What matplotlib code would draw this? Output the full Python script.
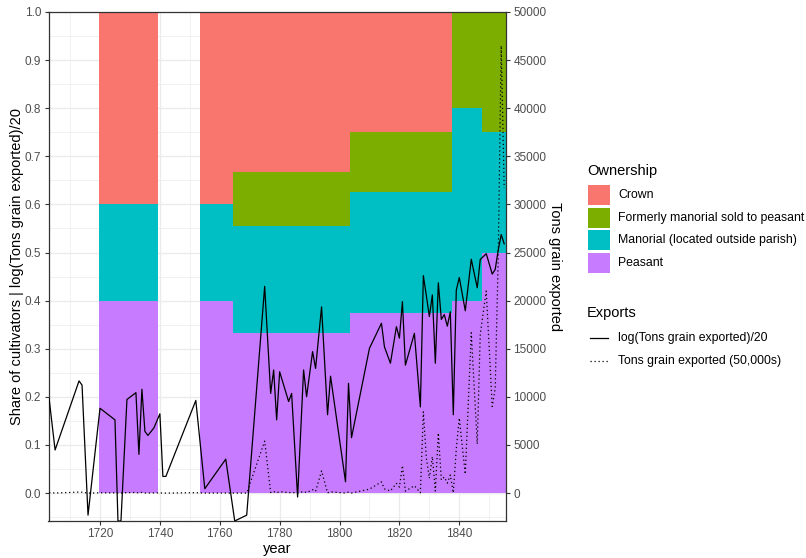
import numpy as np
import matplotlib
matplotlib.use("Agg")
import matplotlib.pyplot as plt
from matplotlib.patches import Rectangle
from matplotlib.lines import Line2D

plt.rcParams['font.family'] = ['Liberation Sans', 'DejaVu Sans']

# ownership periods and shares of cultivators
period_start = [1719.5, 1753.5, 1764.5, 1803.5, 1837.5, 1847.5]
period_end = [1739.5, 1764.5, 1803.5, 1837.5, 1847.5, 1855.5]
share_peasant = [2/5, 2/5, 3/9, 3/8, 2/5, 2/4]
share_manorial = [1/5, 1/5, 2/9, 2/8, 2/5, 1/4]
share_formerly = [0, 0, 1/9, 1/8, 1/5, 1/4]
share_crown = [2/5, 2/5, 3/9, 2/8, 0, 0]

owner_names = ['Crown', 'Formerly manorial sold to peasant',
               'Manorial (located outside parish)', 'Peasant']
owner_colors = ['#F8766D', '#7CAE00', '#00BFC4', '#C77CFF']

# grain exports (tons) by year
years = [1703, 1705, 1713, 1714, 1716, 1720, 1725, 1726, 1727, 1729,
         1732, 1733, 1734, 1735, 1736, 1738, 1740, 1741, 1742, 1752,
         1755, 1762, 1765, 1769, 1775, 1777, 1778, 1779, 1780, 1783,
         1784, 1786, 1788, 1789, 1791, 1792, 1794, 1796, 1797, 1802,
         1803, 1804, 1810, 1814, 1815, 1817, 1819, 1820, 1821, 1822,
         1825, 1827, 1828, 1829, 1830, 1831, 1832, 1833, 1834, 1835,
         1836, 1837, 1838, 1839, 1840, 1842, 1844, 1846, 1847, 1849,
         1851, 1852, 1853, 1854, 1855]
tons = [51, 6, 106, 89, 0.4, 34, 21, 0, 0, 49,
        65, 5, 75, 13, 11, 15, 27, 2, 2, 47,
        1.2, 4.1, 0, 0.4, 5400, 63, 167, 21, 155, 45,
        63, 0.85, 167, 55, 358, 178, 2300, 26, 129, 1.6,
        96, 10, 412, 1164, 437, 221, 1012, 626, 2864, 204,
        765, 36, 8440, 3640, 1540, 3790, 221, 6250, 1367, 1670,
        1033, 1880, 26, 4628, 7800, 1960, 16660, 5100, 16500, 21000,
        9000, 10900, 24500, 46500, 31700]

ylo = -0.058
years = np.array(years)
tons = np.array(tons, dtype=float)
with np.errstate(divide='ignore'):
    log_line = np.log(tons) / 20
log_line[np.isinf(log_line)] = ylo  # -Inf drawn at panel edge, as ggplot does
scaled = tons / 50000

W, H = 806, 558
fig = plt.figure(figsize=(W / 100, H / 100), dpi=100)
ax = fig.add_axes([48.5/W, 37/H, (506-48.5)/W, (521-12)/H])

# stacked ownership shares
for i in range(len(period_start)):
    w = period_end[i] - period_start[i]
    bottom = 0
    for share, col in zip([share_peasant[i], share_manorial[i], share_formerly[i], share_crown[i]],
                          owner_colors[::-1]):
        if share > 0:
            ax.bar(period_start[i], share, width=w, bottom=bottom, align='edge',
                   color=col, linewidth=0, zorder=2)
        bottom += share

dots = (0, (1, 2.2))
ax.plot(years, log_line, color='black', lw=0.9, zorder=3)
ax.plot(years, scaled, color='black', lw=0.9, linestyle=dots, zorder=3)

ax.set_xlim(1702.8, 1855.6)
ax.set_ylim(ylo, 1.0)
ax.set_xticks(np.arange(1720, 1841, 20))
ax.set_xticks(np.arange(1710, 1851, 20), minor=True)
ax.set_yticks(np.arange(0, 1.01, 0.1))
ax.set_yticks(np.arange(-0.05, 1.0, 0.1), minor=True)
ax.yaxis.set_major_formatter(matplotlib.ticker.FormatStrFormatter('%.1f'))
ax.grid(which='major', color='#EBEBEB', lw=1.0, zorder=0)
ax.grid(which='minor', color='#EBEBEB', lw=0.5, zorder=0)
ax.set_axisbelow(True)
ax.tick_params(which='major', length=2.8, width=0.8, color='#333333', labelcolor='#4D4D4D',
               labelsize=8.5, pad=2.4)
ax.tick_params(which='minor', length=0)
for s in ax.spines.values():
    s.set_color('#333333')
    s.set_linewidth(0.9)
ax.set_xlabel('year', fontsize=10.5, labelpad=1.5)
ax.set_ylabel('Share of cultivators | log(Tons grain exported)/20', fontsize=10.5, labelpad=0.5)

ax2 = ax.twinx()
ax2.set_ylim(ylo * 50000, 50000)
ax2.set_yticks(np.arange(0, 50001, 5000))
ax2.tick_params(length=2.8, width=0.8, color='#333333', labelcolor='#4D4D4D',
                labelsize=8.5, pad=2.4)
for s in ax2.spines.values():
    s.set_visible(False)
ax2.set_ylabel('Tons grain exported', fontsize=10.5, rotation=270, labelpad=11)


# legends drawn by hand, positions in pixels from the top left corner
def fx(px):
    return px / W


def fy(py):
    return 1 - py / H


fig.text(fx(587), fy(171), 'Ownership', fontsize=10.5, va='center', ha='left')
for k, (name, col) in enumerate(zip(owner_names, owner_colors)):
    top = 185 + k * 22.6
    fig.add_artist(Rectangle((fx(588), fy(top + 20)), fx(610) - fx(588), 20 / H,
                             facecolor=col, edgecolor='none', transform=fig.transFigure))
    fig.text(fx(618), fy(top + 10), name, fontsize=8.8, va='center', ha='left')

fig.text(fx(587), fy(313), 'Exports', fontsize=10.5, va='center', ha='left')
exp_names = ['log(Tons grain exported)/20', 'Tons grain exported (50,000s)']
for k, (name, ls) in enumerate(zip(exp_names, ['-', dots])):
    yk = 337.7 + k * 23
    fig.add_artist(Line2D([fx(590), fx(608)], [fy(yk), fy(yk)], color='black', lw=0.9,
                          linestyle=ls, transform=fig.transFigure))
    fig.text(fx(618), fy(yk), name, fontsize=8.8, va='center', ha='left')

fig.savefig('out.png', dpi=100)
